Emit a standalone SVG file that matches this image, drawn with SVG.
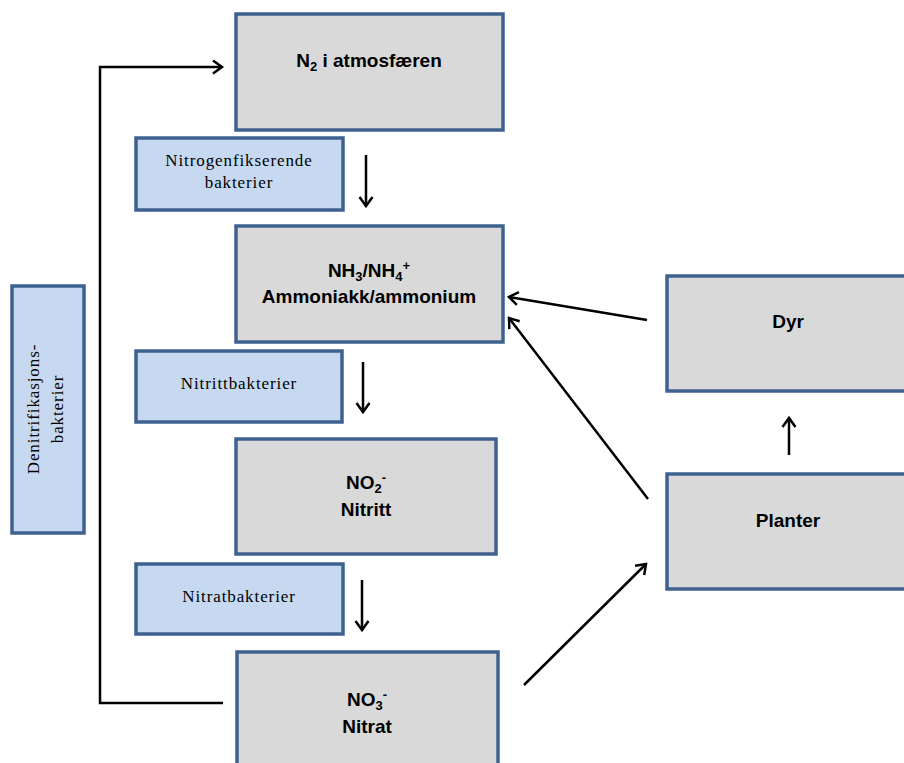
<svg xmlns="http://www.w3.org/2000/svg" width="904" height="763" viewBox="0 0 904 763">
<defs>
<marker id="ah" markerUnits="userSpaceOnUse" markerWidth="16" markerHeight="18" viewBox="-12 -9 16 18" refX="0" refY="0" orient="auto" overflow="visible">
<path d="M-9,-6.5 L0,0 L-9,6.5" fill="none" stroke="#000" stroke-width="2.5" stroke-linejoin="miter"/>
</marker>
<style>
.g{fill:#d9d9d9;stroke:#3f6190;stroke-width:3.5}
.b{fill:#c6d9f1;stroke:#3f6190;stroke-width:3.5}
.bt{font-family:"Liberation Sans",Arial,sans-serif;font-weight:bold;font-size:19px;fill:#000;text-anchor:middle}
.st{font-family:"Liberation Serif","Times New Roman",serif;font-size:17px;letter-spacing:0.9px;fill:#000;text-anchor:middle}
.c{fill:none;stroke:#000;stroke-width:2.5}
</style>
</defs>
<rect width="904" height="763" fill="#fff"/>

<g id="n2">
<rect class="g" x="236" y="14" width="267" height="116"/>
<text class="bt" x="369" y="67">N<tspan font-size="13" dy="4">2</tspan><tspan dy="-4"> i atmosfæren</tspan></text>
</g>

<g id="nitrogenfikserende">
<rect class="b" x="136" y="138" width="207" height="72"/>
<text class="st" x="239" y="166">Nitrogenfikserende</text>
<text class="st" x="239" y="188">bakterier</text>
</g>

<g id="nh3">
<rect class="g" x="236" y="226" width="267" height="116"/>
<text class="bt" x="369" y="277">NH<tspan font-size="13" dy="4">3</tspan><tspan dy="-4">/NH</tspan><tspan font-size="13" dy="4">4</tspan><tspan font-size="13" dy="-11">+</tspan></text>
<text class="bt" x="369" y="303">Ammoniakk/ammonium</text>
</g>

<g id="nitrittbakterier">
<rect class="b" x="136" y="351" width="206" height="71"/>
<text class="st" x="239" y="389">Nitrittbakterier</text>
</g>

<g id="no2">
<rect class="g" x="236" y="439" width="260" height="115"/>
<text class="bt" x="366" y="489">NO<tspan font-size="13" dy="4">2</tspan><tspan font-size="13" dy="-11">-</tspan></text>
<text class="bt" x="366" y="516">Nitritt</text>
</g>

<g id="nitratbakterier">
<rect class="b" x="136" y="564" width="207" height="70"/>
<text class="st" x="239" y="602">Nitratbakterier</text>
</g>

<g id="no3">
<rect class="g" x="237" y="652" width="261" height="125"/>
<text class="bt" x="367" y="706">NO<tspan font-size="13" dy="4">3</tspan><tspan font-size="13" dy="-11">-</tspan></text>
<text class="bt" x="367" y="733">Nitrat</text>
</g>

<g id="denitrifikasjon">
<rect class="b" x="12" y="286" width="72" height="247"/>
<text class="st" transform="translate(39,409) rotate(-90)">Denitrifikasjons-</text>
<text class="st" transform="translate(63,409) rotate(-90)">bakterier</text>
</g>

<g id="dyr">
<rect class="g" x="667" y="276" width="250" height="115"/>
<text class="bt" x="788" y="328">Dyr</text>
</g>

<g id="planter">
<rect class="g" x="667" y="474" width="250" height="115"/>
<text class="bt" x="788" y="527">Planter</text>
</g>

<g id="connectors">
<polyline class="c" points="223,703 100,703 100,67 222,67" marker-end="url(#ah)"/>
<line class="c" x1="366" y1="155" x2="366" y2="206" marker-end="url(#ah)"/>
<line class="c" x1="363" y1="362" x2="363" y2="412" marker-end="url(#ah)"/>
<line class="c" x1="362" y1="580" x2="362" y2="630" marker-end="url(#ah)"/>
<line class="c" x1="789" y1="455" x2="789" y2="418" marker-end="url(#ah)"/>
<line class="c" x1="647" y1="320" x2="509" y2="297" marker-end="url(#ah)"/>
<line class="c" x1="648" y1="499" x2="509" y2="318" marker-end="url(#ah)"/>
<line class="c" x1="524" y1="685" x2="646" y2="564" marker-end="url(#ah)"/>
</g>
</svg>
